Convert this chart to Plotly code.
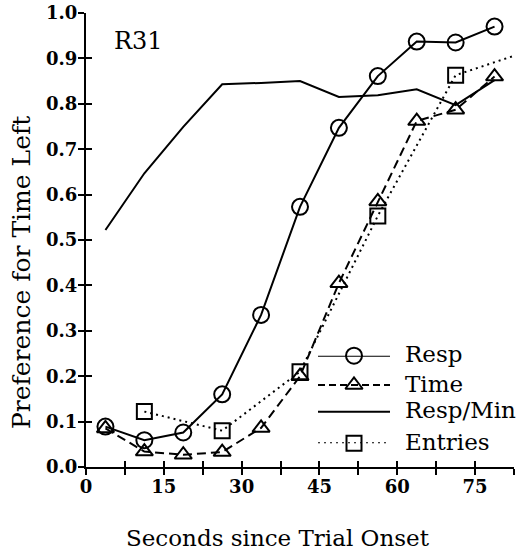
import plotly.graph_objects as go

# ---- data ----
seconds = [3.75, 11.25, 18.75, 26.25, 33.75, 41.25, 48.75, 56.25, 63.75, 71.25, 78.75]
resp = [0.089, 0.059, 0.076, 0.160, 0.335, 0.573, 0.747, 0.861, 0.937, 0.935, 0.970]
time_pref = [0.085, 0.034, 0.027, 0.033, 0.086, 0.200, 0.405, 0.585, 0.762, 0.787, 0.860]
resp_min = [0.522, 0.647, 0.749, 0.843, 0.846, 0.850, 0.815, 0.819, 0.832, 0.797, 0.852]
entries_x = [11.25, 26.25, 41.25, 56.25, 71.25, 86.25]
entries = [0.122, 0.080, 0.210, 0.553, 0.863, 0.920]

x_tickvals = [0, 7.5, 15, 22.5, 30, 37.5, 45, 52.5, 60, 67.5, 75, 82.5]
x_ticktext = ["0", "", "15", "", "30", "", "45", "", "60", "", "75", ""]
y_tickvals = [0.0, 0.1, 0.2, 0.3, 0.4, 0.5, 0.6, 0.7, 0.8, 0.9, 1.0]

series_names = ["Resp", "Time", "Resp/Min", "Entries"]

FONT = "DejaVu Serif"

# the page's body margin is removed (post_script below), so the figure fills the window
W, H = 518, 551
# plot area in window pixels: x 86..514, y 13..467
L, R, T, B = 86, W - 514, 13, H - 467
pw, ph = W - L - R, H - T - B


def px(xs):  # window x pixel -> paper
    return (xs - L) / pw


def py(ys):  # window y pixel -> paper
    return (H - B - ys) / ph


# ---- styles ----
styles = {
    "Resp": dict(line=dict(color="black", width=2),
                 marker=dict(symbol="circle-open", size=16, color="black", line=dict(width=2))),
    "Time": dict(line=dict(color="black", width=2, dash="9px,5px"),
                 marker=dict(symbol="triangle-up-open", size=15, color="black", line=dict(width=2))),
    "Resp/Min": dict(line=dict(color="black", width=2), marker=None),
    "Entries": dict(line=dict(color="black", width=2, dash="2px,4px"),
                    marker=dict(symbol="square-open", size=15, color="black", line=dict(width=2))),
}
data_x = {"Resp": seconds, "Time": seconds, "Resp/Min": seconds, "Entries": entries_x}
data_y = {"Resp": resp, "Time": time_pref, "Resp/Min": resp_min, "Entries": entries}

fig = go.Figure()
for name in series_names:
    st = styles[name]
    kw = dict(x=data_x[name], y=data_y[name], name=name, showlegend=False,
              mode="lines+markers" if st["marker"] else "lines", line=st["line"])
    if st["marker"]:
        kw["marker"] = st["marker"]
    fig.add_trace(go.Scatter(**kw))

# invisible trace for the overlay axes that draw the inner half of the ticks
fig.add_trace(go.Scatter(x=[None], y=[None], xaxis="x2", yaxis="y2", showlegend=False, hoverinfo="skip"))

# ---- hand-drawn legend (on its own hidden axes, in window-pixel units) ----
leg_x0, leg_x1, leg_mid = 318, 390, 354
leg_rows = [355.7, 385.0, 411.7, 443.3]
legend_dash = {"Resp": None, "Time": "7px,4px", "Resp/Min": None, "Entries": "2px,4px"}
for name, yr in zip(series_names, leg_rows):
    st = styles[name]
    ln = dict(color="black", width=2)
    if legend_dash[name]:
        ln["dash"] = legend_dash[name]
    fig.add_trace(go.Scatter(x=[leg_x0, leg_x1], y=[yr, yr], mode="lines", line=ln,
                             xaxis="x3", yaxis="y3", showlegend=False, hoverinfo="skip",
                             cliponaxis=False))
    if st["marker"]:
        fig.add_trace(go.Scatter(x=[leg_mid], y=[yr], mode="markers", marker=dict(st["marker"]),
                                 xaxis="x3", yaxis="y3", showlegend=False, hoverinfo="skip",
                                 cliponaxis=False))

annotations = []
for name, yr in zip(series_names, leg_rows):
    annotations.append(dict(text=name, x=px(403), y=py(yr - 1.5),
                            xref="paper", yref="paper", xanchor="left", yanchor="middle",
                            showarrow=False, font=dict(family=FONT, size=23)))
annotations.append(dict(text="R31", x=px(112), y=py(41.5), xref="paper", yref="paper",
                        xanchor="left", yanchor="middle", showarrow=False,
                        font=dict(family=FONT, size=24)))
annotations.append(dict(text="Preference for Time Left", x=px(21), y=py(273),
                        xref="paper", yref="paper", xanchor="center", yanchor="middle",
                        textangle=-90, showarrow=False, font=dict(family=FONT, size=25)))
annotations.append(dict(text="Seconds since Trial Onset", x=px(278), y=py(538),
                        xref="paper", yref="paper", xanchor="center", yanchor="middle",
                        showarrow=False, font=dict(family=FONT, size=23)))

axis_common = dict(showgrid=False, zeroline=False, showline=True, linecolor="black", linewidth=2,
                   ticks="outside", ticklen=6, tickwidth=2, tickcolor="black", automargin=False,
                   ticklabeloverflow="allow")

fig.update_layout(
    width=W, height=H,
    margin=dict(l=L, r=R, t=T, b=B, autoexpand=False),
    plot_bgcolor="white", paper_bgcolor="white",
    font=dict(family=FONT, color="black"),
    showlegend=False,
    xaxis=dict(range=[0, 82.5], tickvals=x_tickvals, ticktext=x_ticktext, ticklabelstandoff=-4,
               tickfont=dict(family=FONT, size=18, weight="bold"), **axis_common),
    yaxis=dict(range=[0, 1.0], tickvals=y_tickvals, tickformat=".1f", ticklabelstandoff=-3,
               tickfont=dict(family=FONT, size=18, weight="bold"), **axis_common),
    xaxis2=dict(overlaying="x", anchor="y", side="bottom", range=[0, 82.5], tickvals=x_tickvals,
                showticklabels=False, showgrid=False, zeroline=False, showline=False,
                ticks="inside", ticklen=6, tickwidth=2, tickcolor="black", automargin=False),
    yaxis2=dict(overlaying="y", anchor="x", side="left", range=[0, 1.0], tickvals=y_tickvals,
                showticklabels=False, showgrid=False, zeroline=False, showline=False,
                ticks="inside", ticklen=6, tickwidth=2, tickcolor="black", automargin=False),
    xaxis3=dict(domain=[px(leg_x0), px(leg_x1)], range=[leg_x0, leg_x1],
                anchor="y3", visible=False, fixedrange=True),
    yaxis3=dict(domain=[py(leg_rows[-1]), py(leg_rows[0])],
                range=[leg_rows[-1], leg_rows[0]], anchor="x3", visible=False, fixedrange=True),
    annotations=annotations,
)

fig.write_html("out.html", config={"displayModeBar": False},
               post_script="document.body.style.margin='0';document.body.style.overflow='hidden';")
